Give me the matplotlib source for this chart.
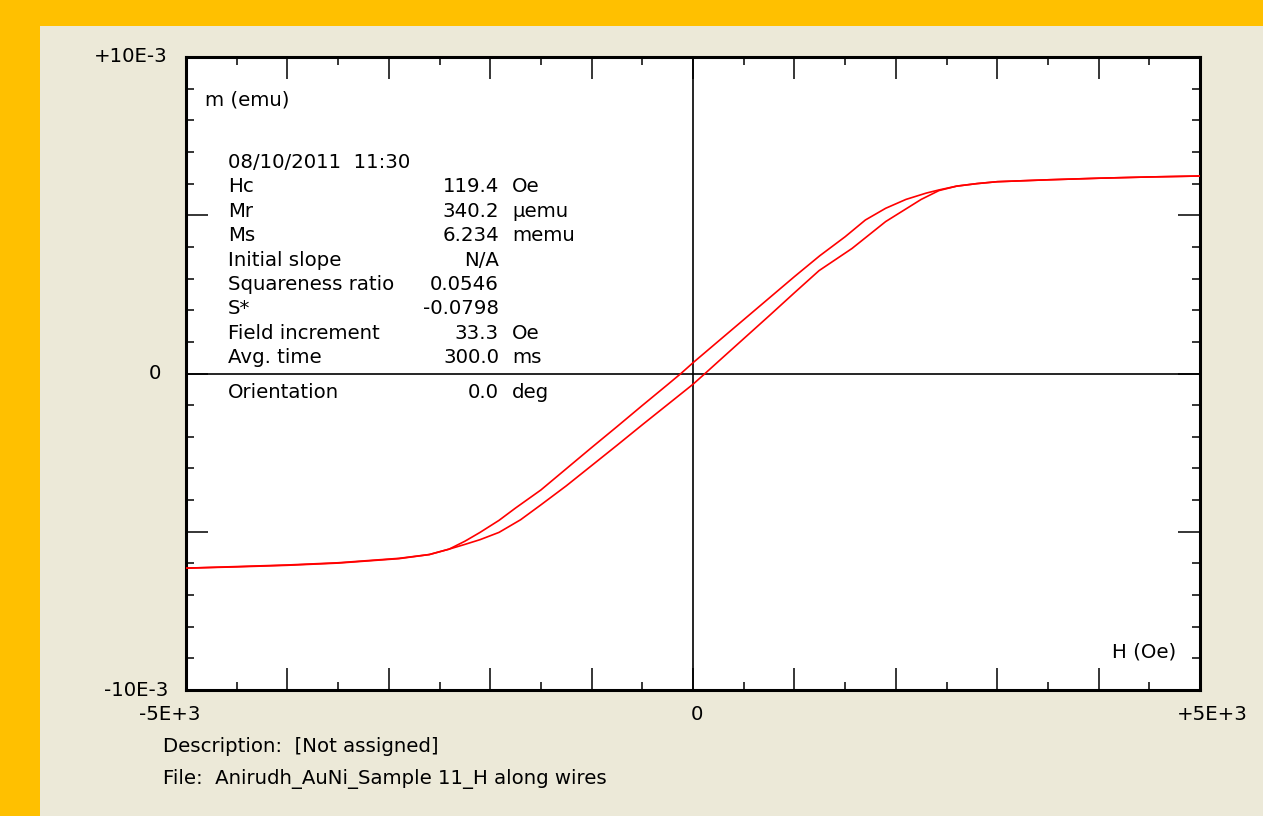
import matplotlib
matplotlib.use("Agg")
import matplotlib.pyplot as plt
from matplotlib.patches import Rectangle
from matplotlib.ticker import MultipleLocator

# ---------------- data (H in Oe, m in 1E-3 emu) ----------------
upper_H = [5000, 4500, 4000, 3500, 3000, 2800, 2600, 2426, 2300, 2100, 1900, 1700,
           1500, 1250, 1000, 750, 500, 250, 0, -119, -250, -500, -750, -1000,
           -1250, -1500, -1750, -1913, -2100, -2250, -2406, -2600, -2900, -3500,
           -4000, -4500, -5000]
upper_m = [6.24, 6.21, 6.17, 6.12, 6.06, 6.00, 5.92, 5.80, 5.70, 5.50, 5.22, 4.85,
           4.32, 3.72, 3.06, 2.38, 1.70, 1.02, 0.34, 0.0, -0.35, -1.01, -1.68, -2.34,
           -3.01, -3.68, -4.25, -4.64, -5.02, -5.30, -5.55, -5.72, -5.84, -5.98,
           -6.05, -6.10, -6.15]
lower_H = [-5000, -4500, -4000, -3500, -2900, -2600, -2406, -2250, -2100, -1913,
           -1700, -1500, -1250, -1000, -750, -500, -250, 0, 119, 250, 500, 750,
           1000, 1243, 1568, 1900, 2100, 2250, 2426, 2600, 2800, 3000, 3500, 4000,
           4500, 5000]
lower_m = [-6.15, -6.11, -6.06, -5.99, -5.85, -5.72, -5.55, -5.40, -5.25, -5.02,
           -4.62, -4.15, -3.55, -2.91, -2.27, -1.62, -0.98, -0.34, 0.0, 0.38, 1.10,
           1.82, 2.55, 3.25, 3.95, 4.80, 5.20, 5.50, 5.78, 5.92, 6.00, 6.06, 6.12,
           6.17, 6.21, 6.24]

info_labels = ["Hc", "Mr", "Ms", "Initial slope", "Squareness ratio", "S*",
               "Field increment", "Avg. time"]
info_values = ["119.4", "340.2", "6.234", "N/A", "0.0546", "-0.0798", "33.3", "300.0"]
info_units = ["Oe", "\u00b5emu", "memu", "", "", "", "Oe", "ms"]
date_text = "08/10/2011  11:30"
x_ticklabels = ["-5E+3", "0", "+5E+3"]
y_ticklabels = ["-10E-3", "0", "+10E-3"]

W, H = 1263, 816
ORANGE = "#FFC000"
BEIGE = "#ECE9D8"
FONT = "DejaVu Sans"
FS = 14.2

fig = plt.figure(figsize=(W / 100, H / 100), dpi=100, facecolor=ORANGE)
fig.patches.append(Rectangle((40 / W, 0), 1 - 40 / W, 1 - 26 / H,
                             transform=fig.transFigure, facecolor=BEIGE,
                             edgecolor="none", zorder=-10))

def fx(px):
    return px / W

def fy(py):
    return 1 - py / H

left, right, top, bottom = 186, 1200, 57, 690
ax = fig.add_axes([fx(left), fy(bottom), (right - left) / W, (bottom - top) / H])
ax.set_zorder(5)
ax.set_facecolor("white")
ax.set_xlim(-5000, 5000)
ax.set_ylim(-10, 10)

for s in ax.spines.values():
    s.set_linewidth(2.2)
    s.set_color("black")

ax.xaxis.set_major_locator(MultipleLocator(1000))
ax.xaxis.set_minor_locator(MultipleLocator(500))
ax.yaxis.set_major_locator(MultipleLocator(5))
ax.yaxis.set_minor_locator(MultipleLocator(1))
ax.tick_params(which="both", direction="in", top=True, right=True,
               labelbottom=False, labelleft=False, color="black")
ax.tick_params(which="major", length=15.5, width=1.1)
ax.tick_params(which="minor", length=6, width=1.1)

ax.axhline(0, color="black", lw=1.2, zorder=1)
ax.axvline(0, color="black", lw=1.2, zorder=1)

ax.plot(upper_H, upper_m, color="#FF0000", lw=1.2, zorder=3)
ax.plot(lower_H, lower_m, color="#FF0000", lw=1.2, zorder=3)

# tick labels at ends and zero
tk = dict(fontsize=FS, family=FONT, color="black")
ax.annotate(y_ticklabels[2], (-5000, 10), xytext=(-13, 0), textcoords="offset points",
            ha="right", va="center", annotation_clip=False, **tk)
ax.annotate(y_ticklabels[1], (-5000, 0), xytext=(-18, 0), textcoords="offset points",
            ha="right", va="center", annotation_clip=False, **tk)
ax.annotate(y_ticklabels[0], (-5000, -10), xytext=(-13, 0), textcoords="offset points",
            ha="right", va="center", annotation_clip=False, **tk)
ax.annotate(x_ticklabels[0], (-5000, -10), xytext=(-12, -18), textcoords="offset points",
            ha="center", va="center", annotation_clip=False, **tk)
ax.annotate(x_ticklabels[1], (0, -10), xytext=(3, -18), textcoords="offset points",
            ha="center", va="center", annotation_clip=False, **tk)
ax.annotate(x_ticklabels[2], (5000, -10), xytext=(9, -18), textcoords="offset points",
            ha="center", va="center", annotation_clip=False, **tk)

# in-plot labels (drawn in axes so they sit above the white face)
def atext(px, py, s, ha):
    ax.text((px - left) / (right - left), (bottom - py) / (bottom - top), s,
            transform=ax.transAxes, ha=ha, va="center", zorder=6, **tk)

atext(205, 100, "m (emu)", "left")
atext(1176, 652, "H (Oe)", "right")

# info block
atext(228, 162, date_text, "left")
row_y0, row_dy = 187, 24.4
for i, (lab, val, unit) in enumerate(zip(info_labels, info_values, info_units)):
    y = row_y0 + i * row_dy
    atext(228, y, lab, "left")
    atext(499, y, val, "right")
    if unit:
        atext(512, y, unit, "left")
atext(228, 392, "Orientation", "left")
atext(499, 392, "0.0", "right")
atext(512, 392, "deg", "left")

# footer
fig.text(fx(163), fy(747), "Description:  [Not assigned]", ha="left", va="center", **tk)
fig.text(fx(163), fy(779), "File:  Anirudh_AuNi_Sample 11_H along wires",
         ha="left", va="center", **tk)

fig.savefig("out.png", dpi=100, facecolor=fig.get_facecolor())
